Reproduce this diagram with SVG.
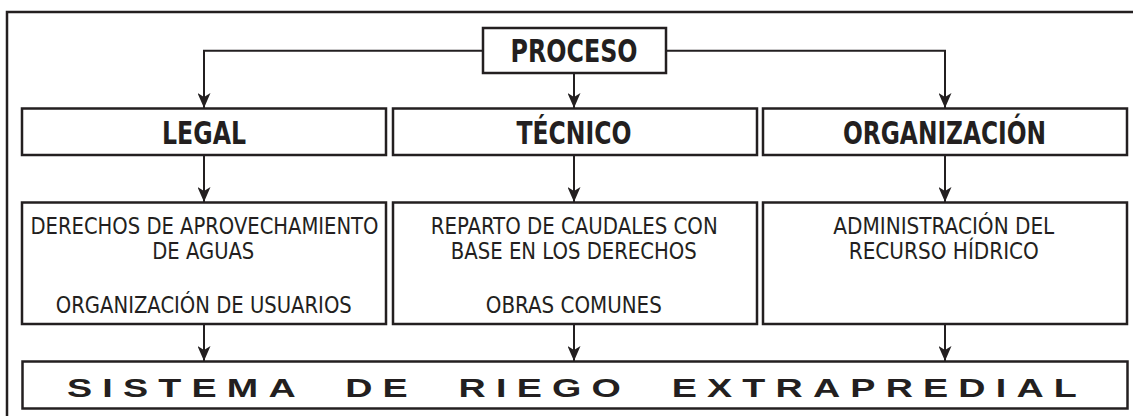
<svg xmlns="http://www.w3.org/2000/svg" width="1133" height="416" viewBox="0 0 1133 416">
<style>
.box{fill:#fff;stroke:#231f20;stroke-width:2.5}
.frame{fill:none;stroke:#231f20;stroke-width:2.5}
.conn{fill:none;stroke:#231f20;stroke-width:2}
.title{font-family:"Liberation Sans Narrow","DejaVu Sans Condensed","Liberation Sans",sans-serif;font-weight:bold;font-size:32px;fill:#231f20;text-anchor:middle}
.body{font-family:"Liberation Sans Narrow","DejaVu Sans Condensed","Liberation Sans",sans-serif;font-size:23.3px;fill:#231f20;text-anchor:middle}
.wide{font-family:"Liberation Sans",Arial,sans-serif;font-weight:bold;font-size:25.5px;fill:#231f20;letter-spacing:6.9px;word-spacing:13.6px}
</style>
<defs>
<marker id="arr" markerUnits="userSpaceOnUse" markerWidth="16" markerHeight="13" refX="15" refY="6.5" orient="auto">
<path d="M15,6.5 L0,0 L4,6.5 L0,13 Z" fill="#231f20"/>
</marker>
</defs>
<rect class="frame" x="7" y="12" width="1140" height="420"/>
<g id="connectors">
<path class="conn" d="M483,50.7 H204 V108" marker-end="url(#arr)"/>
<path class="conn" d="M666,50.7 H945 V108" marker-end="url(#arr)"/>
<path class="conn" d="M574,73 V108" marker-end="url(#arr)"/>
<path class="conn" d="M204,155 V202" marker-end="url(#arr)"/>
<path class="conn" d="M574,155 V202" marker-end="url(#arr)"/>
<path class="conn" d="M945,155 V202" marker-end="url(#arr)"/>
<path class="conn" d="M204,324 V361" marker-end="url(#arr)"/>
<path class="conn" d="M574,324 V361" marker-end="url(#arr)"/>
<path class="conn" d="M945,324 V361" marker-end="url(#arr)"/>
</g>
<g id="proceso">
<rect class="box" x="483" y="28" width="183" height="45"/>
<text class="title" x="574" y="62.3" textLength="127" lengthAdjust="spacingAndGlyphs">PROCESO</text>
</g>
<g id="legal">
<rect class="box" x="22" y="108.5" width="364" height="46.5"/>
<text class="title" x="204" y="144.3" textLength="84" lengthAdjust="spacingAndGlyphs">LEGAL</text>
</g>
<g id="tecnico">
<rect class="box" x="393" y="108.5" width="364" height="46.5"/>
<text class="title" x="574" y="144.3" textLength="115" lengthAdjust="spacingAndGlyphs">TÉCNICO</text>
</g>
<g id="organizacion">
<rect class="box" x="763" y="108.5" width="364" height="46.5"/>
<text class="title" x="944.5" y="144.3" textLength="203" lengthAdjust="spacingAndGlyphs">ORGANIZACIÓN</text>
</g>
<g id="legal-detalle">
<rect class="box" x="22" y="202.5" width="364" height="121.5"/>
<text class="body" x="204.5" y="234" textLength="348" lengthAdjust="spacingAndGlyphs">DERECHOS DE APROVECHAMIENTO</text>
<text class="body" x="203.3" y="259.3" textLength="102" lengthAdjust="spacingAndGlyphs">DE AGUAS</text>
<text class="body" x="203.8" y="313.3" textLength="296" lengthAdjust="spacingAndGlyphs">ORGANIZACIÓN DE USUARIOS</text>
</g>
<g id="tecnico-detalle">
<rect class="box" x="393" y="202.5" width="364" height="121.5"/>
<text class="body" x="574.2" y="233.5" textLength="287" lengthAdjust="spacingAndGlyphs">REPARTO DE CAUDALES CON</text>
<text class="body" x="573.8" y="259.3" textLength="246" lengthAdjust="spacingAndGlyphs">BASE EN LOS DERECHOS</text>
<text class="body" x="573.8" y="313.3" textLength="176" lengthAdjust="spacingAndGlyphs">OBRAS COMUNES</text>
</g>
<g id="organizacion-detalle">
<rect class="box" x="763" y="202.5" width="364" height="121.5"/>
<text class="body" x="943.8" y="233.5" textLength="221" lengthAdjust="spacingAndGlyphs">ADMINISTRACIÓN DEL</text>
<text class="body" x="943.8" y="259.3" textLength="190" lengthAdjust="spacingAndGlyphs">RECURSO HÍDRICO</text>
</g>
<g id="sistema">
<rect class="box" x="22.5" y="361.5" width="1105" height="47"/>
<text class="wide" x="67" y="397.3" textLength="1020" lengthAdjust="spacingAndGlyphs">SISTEMA DE RIEGO EXTRAPREDIAL</text>
</g>
</svg>
